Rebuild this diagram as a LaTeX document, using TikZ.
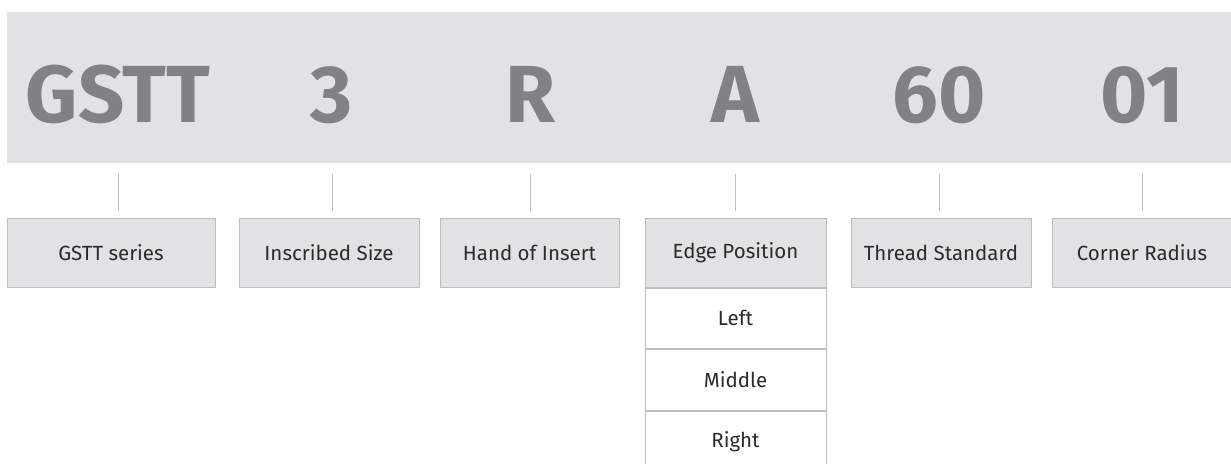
\documentclass[tikz,border=0pt]{standalone}
\usepackage{fontspec}
\setmainfont{Fira Sans}
\usetikzlibrary{positioning}
\definecolor{bandgray}{HTML}{E1E2E4}
\definecolor{rulegray}{HTML}{BCBDBF}
\definecolor{codegray}{HTML}{808285}
\definecolor{labelgray}{HTML}{2B2B2B}

\begin{document}
\begin{tikzpicture}[x=1pt,y=-1pt,
  codechar/.style={font=\fontsize{81}{81}\selectfont\bfseries, text=codegray, inner sep=0pt, anchor=base},
  fieldbox/.style={draw=rulegray, fill=bandgray, line width=1pt, minimum height=69pt, inner sep=0pt, text=labelgray, font=\fontsize{20.5}{20.5}\selectfont},
  optionbox/.style={fieldbox, fill=white, minimum height=61pt, minimum width=181pt},
  ticklink/.style={draw=rulegray, line width=1pt}]
  \useasboundingbox (0,0) rectangle (1231,463);
  \fill[bandgray] (7,12) rectangle (1231,163);

  % code letters
  \node[codechar] (cSeries) at (118,122) {GSTT};
  \node[codechar] (cSize)   at (332,122) {3};
  \node[codechar] (cHand)   at (530,122) {R};
  \node[codechar] (cEdge)   at (735,122) {A};
  \node[codechar] (cThread) at (939,122) {60};
  \node[codechar] (cRadius) at (1142,122) {01};

  % field boxes
  \node[fieldbox, minimum width=208pt] (bSeries) at (111,252.5)   {GSTT series};
  \node[fieldbox, minimum width=180pt] (bSize)   at (329,252.5)   {Inscribed Size};
  \node[fieldbox, minimum width=179pt] (bHand)   at (529.5,252.5) {Hand of Insert};
  \node[fieldbox, minimum width=181pt] (bEdge)   at (735.5,252.5) {Edge Position};
  \node[fieldbox, minimum width=180pt] (bThread) at (941,252.5)   {Thread Standard};
  \node[fieldbox, minimum width=180pt] (bRadius) at (1142,252.5)  {Corner Radius};

  % edge position options
  \node[optionbox, minimum height=60pt, below=0pt of bEdge] (oLeft) {Left};
  \node[optionbox, below=0pt of oLeft]   (oMiddle) {Middle};
  \node[optionbox, below=0pt of oMiddle] (oRight)  {Right};

  % ticks
  \foreach \c/\b in {cSeries/bSeries, cSize/bSize, cHand/bHand, cEdge/bEdge, cThread/bThread, cRadius/bRadius}
    \draw[ticklink] ([yshift=7pt]\c.south |- \b.north) -- ([yshift=44pt]\c.south |- \b.north);
\end{tikzpicture}
\end{document}
